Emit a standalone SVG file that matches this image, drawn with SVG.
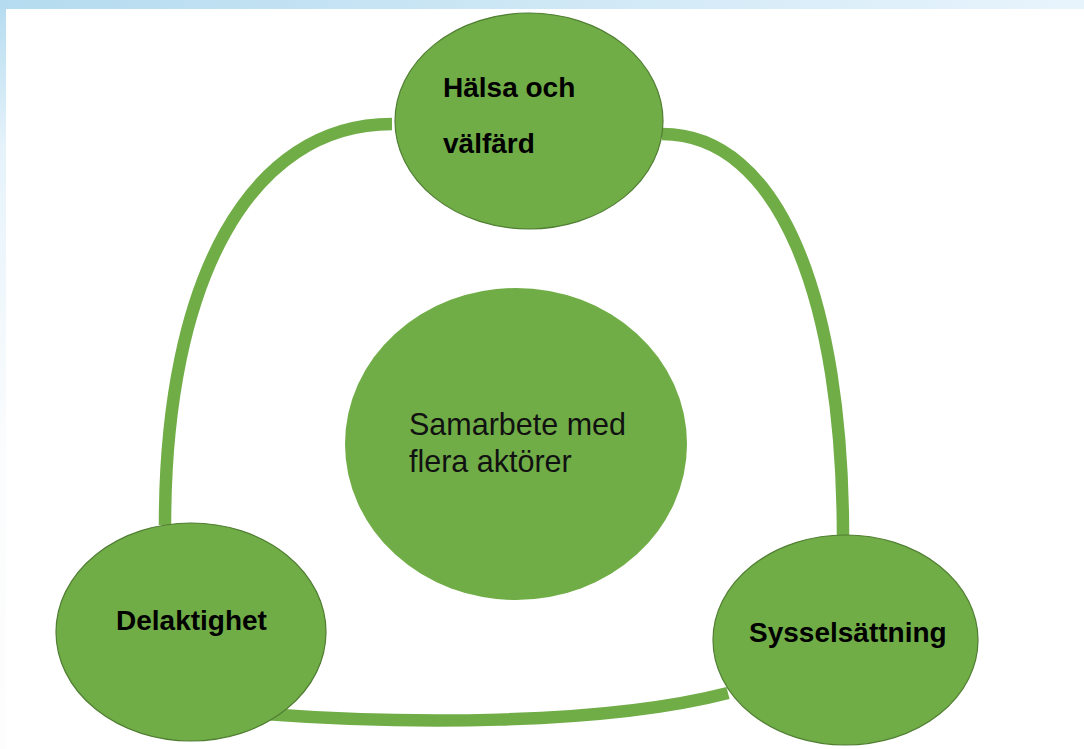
<svg xmlns="http://www.w3.org/2000/svg" width="1084" height="749" viewBox="0 0 1084 749">
  <defs>
    <linearGradient id="topBand" x1="0" y1="0" x2="1" y2="0">
      <stop offset="0" stop-color="#b4dbef"/>
      <stop offset="1" stop-color="#e8f4fc"/>
    </linearGradient>
    <linearGradient id="leftBand" x1="0" y1="0" x2="0" y2="1">
      <stop offset="0" stop-color="#b4dbef"/>
      <stop offset="0.2" stop-color="#e6f3fb"/>
      <stop offset="0.6" stop-color="#fbfcfd"/>
      <stop offset="1" stop-color="#fdfdfd"/>
    </linearGradient>
    <style>
      .conn { fill: none; stroke: #70AD47; stroke-width: 12.5; }
      .node { fill: #70AD47; stroke: #507E32; stroke-width: 1.2; }
      .center { fill: #70AD47; stroke: none; }
      .lbl { font-family: "Liberation Sans", Arial, sans-serif; font-weight: bold; font-size: 28px; fill: #000; }
      .lblc { font-family: "Liberation Sans", Arial, sans-serif; font-size: 30.5px; fill: #111; }
    </style>
  </defs>
  <rect x="0" y="0" width="1084" height="749" fill="#ffffff"/>
  <rect x="0" y="0" width="6" height="749" fill="url(#leftBand)"/>
  <rect x="0" y="0" width="1084" height="9" fill="url(#topBand)"/>

  <g id="connectors">
    <path class="conn" d="M392,124 C250,124 165,280 165,525"/>
    <path class="conn" d="M662,134 C780,134 843,300 843,537"/>
    <path class="conn" d="M265,714 C400,724 600,726 728,693"/>
  </g>

  <g id="node-halsa">
    <ellipse class="node" cx="529" cy="121" rx="134" ry="108"/>
    <text class="lbl" x="443" y="97">Hälsa och</text>
    <text class="lbl" x="443" y="153">välfärd</text>
  </g>

  <g id="node-samarbete">
    <ellipse class="center" cx="516" cy="444" rx="171" ry="156"/>
    <text class="lblc" x="409" y="435">Samarbete med</text>
    <text class="lblc" x="409" y="472">flera aktörer</text>
  </g>

  <g id="node-delaktighet">
    <ellipse class="node" cx="191" cy="632" rx="135" ry="109"/>
    <text class="lbl" x="116" y="630">Delaktighet</text>
  </g>

  <g id="node-sysselsattning">
    <ellipse class="node" cx="845.5" cy="640" rx="132.5" ry="105"/>
    <text class="lbl" x="749" y="642">Sysselsättning</text>
  </g>
</svg>
